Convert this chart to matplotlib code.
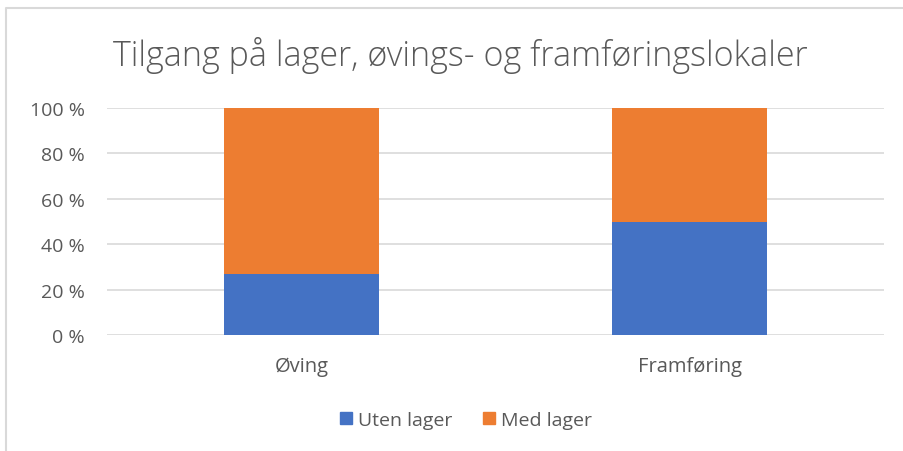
import matplotlib.pyplot as plt
from matplotlib.lines import Line2D
from matplotlib.patches import Patch

categories = ["Øving", "Framføring"]
uten_lager = [27, 50]
med_lager = [73, 50]
yticks = [0, 20, 40, 60, 80, 100]

BLUE = "#4472C4"
ORANGE = "#ED7D31"
TEXT = "#595959"
GRID = "#D9D9D9"

plt.rcParams["font.family"] = ["Open Sans", "DejaVu Sans"]

fig = plt.figure(figsize=(9.04, 4.52), dpi=100)
ax = fig.add_axes([107 / 904, 1 - 336 / 452, 777 / 904, 227 / 452])

x = range(len(categories))
ax.bar(x, uten_lager, width=0.4, color=BLUE, label="Uten lager", zorder=3)
ax.bar(x, med_lager, width=0.4, bottom=uten_lager, color=ORANGE,
       label="Med lager", zorder=3)

ax.set_xlim(-0.5, len(categories) - 0.5)
ax.set_ylim(0, 100)
ax.set_yticks(yticks)
ax.set_yticklabels([f"{v} %" for v in yticks])
ax.set_xticks(list(x))
ax.set_xticklabels(categories)
ax.tick_params(length=0, colors=TEXT)
ax.tick_params(axis="y", pad=16, labelsize=14)
ax.tick_params(axis="x", pad=15, labelsize=14.5)
ax.grid(axis="y", color=GRID, linewidth=1.2, zorder=0)
for s in ax.spines.values():
    s.set_visible(False)

fig.text(460 / 904, 1 - 56 / 452, "Tilgang på lager, øvings- og framføringslokaler",
         ha="center", va="center", fontsize=24.5, color=TEXT, fontweight="light")

handles = [Patch(color=BLUE), Patch(color=ORANGE)]
fig.legend(handles, ["Uten lager", "Med lager"], loc="center",
           bbox_to_anchor=(466 / 904, 1 - 421 / 452), ncol=2, frameon=False,
           fontsize=14, labelcolor=TEXT, handlelength=0.62, handleheight=0.62,
           handletextpad=0.3, columnspacing=1.6)

# outer chart border (partially cropped in the original)
fig.add_artist(Line2D([6 / 904, 6 / 904, 1], [0, 1 - 9 / 452, 1 - 9 / 452],
                      transform=fig.transFigure, color=GRID, linewidth=1.5))

fig.savefig("out.png", dpi=100)
